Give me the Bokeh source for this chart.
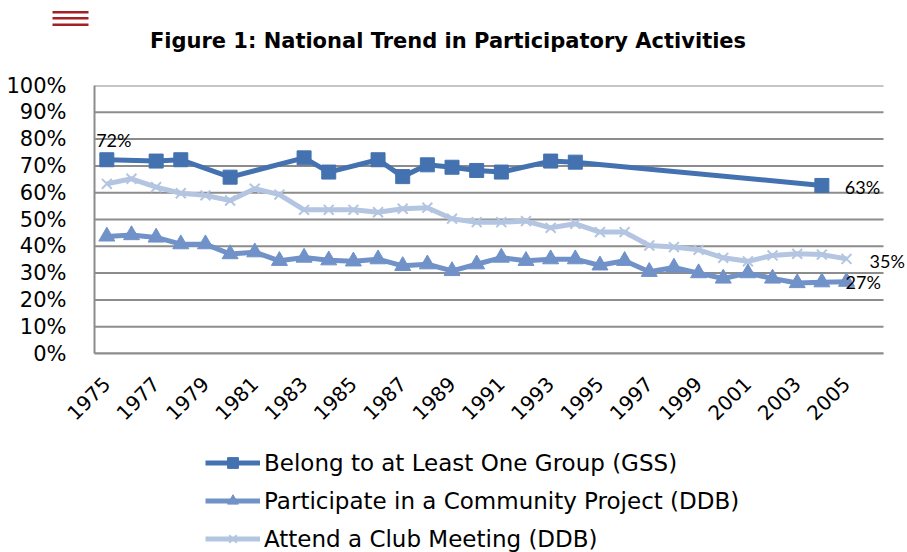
from bokeh.plotting import figure
from bokeh.layouts import column
from bokeh.models import (Range1d, FixedTicker, PrintfTickFormatter, Legend,
                          LegendItem, Label, ColumnDataSource)
from bokeh.core.properties import value
from bokeh.embed import file_html
from bokeh.resources import INLINE
import math

# ---------------- data ----------------
first_year, last_year = 1975, 2006                 # category slots on the x axis
tick_years = list(range(1975, 2006, 2))            # labelled years

gss_years = [1975, 1977, 1978, 1980, 1983, 1984, 1986, 1987,
             1988, 1989, 1990, 1991, 1993, 1994, 2004]
gss_vals = [72.3, 71.8, 72.3, 65.8, 73.0, 67.7, 72.3, 66.0,
            70.4, 69.5, 68.3, 67.7, 71.8, 71.4, 62.7]

ddb_years = list(range(1975, 2006))
project_vals = [43.7, 44.2, 43.3, 40.8, 40.8, 37.1, 37.8, 34.6, 35.8, 34.8,
                34.4, 35.2, 32.7, 33.3, 30.8, 33.3, 35.8, 34.6, 35.2, 35.2,
                32.9, 34.6, 30.5, 32.1, 30.0, 28.0, 30.0, 28.0, 26.3, 26.6, 26.8]
club_vals = [63.3, 65.2, 62.1, 59.8, 59.0, 57.1, 61.5, 59.3, 53.6, 53.6,
             53.6, 52.7, 54.0, 54.4, 50.3, 49.0, 49.0, 49.4, 46.9, 48.4,
             45.3, 45.3, 40.3, 39.7, 38.7, 35.7, 34.4, 36.6, 37.2, 36.9, 35.3]

y_ticks = [0, 10, 20, 30, 40, 50, 60, 70, 80, 90, 100]

series_names = ["Belong to at Least One Group (GSS)",
                "Participate in a Community Project (DDB)",
                "Attend a Club Meeting (DDB)"]
title_text = "Figure 1: National Trend in Participatory Activities"

c_gss = "#4472B0"
c_proj = "#7092C8"
c_club = "#B3C5E1"
grid_col = "#8C8C8C"

# ---------------- layout constants ----------------
W = 907
HEAD_H, MAIN_H, FOOT_H = 55, 385, 112
FRAME_LEFT, PLOT_RIGHT = 94, 883          # plot area; frame itself runs to the edge
x_lo, x_hi = first_year - 0.5, last_year + 0.5
px_per_year = (PLOT_RIGHT - FRAME_LEFT) / (x_hi - x_lo)
x_end = x_lo + (W - FRAME_LEFT) / px_per_year

# ---------------- header (icon + title) ----------------
head = figure(width=W, height=HEAD_H, x_range=Range1d(0, W), y_range=Range1d(HEAD_H, 0),
              x_axis_type=None, y_axis_type=None, output_backend="svg",
              toolbar_location=None, min_border=0)
head.outline_line_color = None
head.grid.visible = False
# hamburger icon (decoration)
head.quad(left=52, right=88, top=[10.5, 16.5, 23.0], bottom=[13.0, 19.0, 25.5],
          fill_color="#A52025", line_color=None)
head.add_layout(Label(x=447.5, y=40, text=title_text, text_font="DejaVu Sans",
                      text_font_style="bold", text_font_size="21px",
                      text_align="center", text_baseline="middle", text_color="black"))

# ---------------- main chart ----------------
p = figure(width=W, height=MAIN_H, x_range=Range1d(x_lo, x_end), y_range=Range1d(0, 100),
           output_backend="svg", toolbar_location=None,
           min_border_left=FRAME_LEFT, min_border_right=0, min_border_top=30,
           min_border_bottom=87)
p.outline_line_color = None
p.grid.visible = False

# horizontal gridlines limited to the plot area
p.segment(x0=x_lo, x1=x_hi, y0=y_ticks, y1=y_ticks, line_color=grid_col, line_width=2)

p.yaxis.ticker = FixedTicker(ticks=y_ticks)
p.yaxis.formatter = PrintfTickFormatter(format="%d%%")
p.yaxis.bounds = (0, 100)
p.yaxis.major_label_text_font = "DejaVu Sans"
p.yaxis.major_label_text_font_size = "21px"
p.yaxis.major_label_text_color = "black"
p.yaxis.major_label_standoff = 22
p.yaxis.major_tick_line_color = None
p.yaxis.minor_tick_line_color = None
p.yaxis.axis_line_color = grid_col
p.yaxis.axis_line_width = 2

p.xaxis.ticker = FixedTicker(ticks=tick_years)
p.xaxis.formatter = PrintfTickFormatter(format="%d")
p.xaxis.bounds = (x_lo, x_hi)
p.xaxis.major_label_orientation = math.pi / 4
p.xaxis.major_label_text_font = "DejaVu Sans"
p.xaxis.major_label_text_font_size = "20px"
p.xaxis.major_label_text_color = "black"
p.xaxis.major_label_standoff = 21
p.xaxis.major_tick_line_color = None
p.xaxis.minor_tick_line_color = None
p.xaxis.axis_line_color = grid_col
p.xaxis.axis_line_width = 2

src_club = ColumnDataSource(dict(x=ddb_years, y=club_vals))
src_proj = ColumnDataSource(dict(x=ddb_years, y=project_vals))
src_gss = ColumnDataSource(dict(x=gss_years, y=gss_vals))

styles = [
    (src_club, c_club, dict(marker="x", size=14, line_width=2)),
    (src_proj, c_proj, dict(marker="triangle", size=16)),
    (src_gss, c_gss, dict(marker="square", size=14)),
]

def draw_series(fig):
    out = []
    for src, col, mk in styles:
        ln = fig.line("x", "y", source=src, line_color=col, line_width=5, line_join="round")
        sc = fig.scatter("x", "y", source=src, fill_color=col, line_color=col, **mk)
        out.append((ln, sc))
    return out

draw_series(p)

def lab(xs, ys, xo, yo, align):
    src = ColumnDataSource(dict(x=xs, y=ys, t=[f"{round(v)}%" for v in ys]))
    p.text("x", "y", text="t", source=src, x_offset=xo, y_offset=yo,
           text_font=value("Lato"), text_font_size="18px", text_color="black",
           text_align=align, text_baseline="middle")

lab([gss_years[0]], [gss_vals[0]], 7, -20, "center")
lab([gss_years[-1]], [gss_vals[-1]], 23, 2, "left")
lab([ddb_years[-1]], [club_vals[-1]], 23, 2, "left")
lab([ddb_years[-1]], [project_vals[-1]], -1, 0, "left")

# ---------------- footer (legend) ----------------
foot = figure(width=W, height=FOOT_H, x_range=Range1d(0, W), y_range=Range1d(200, 312),
              x_axis_type=None, y_axis_type=None, output_backend="svg",
              toolbar_location=None, min_border=0)
foot.outline_line_color = None
foot.grid.visible = False
rs = draw_series(foot)   # same series, out of view: only used by the legend
legend = Legend(items=[LegendItem(label=series_names[0], renderers=list(rs[2])),
                       LegendItem(label=series_names[1], renderers=list(rs[1])),
                       LegendItem(label=series_names[2], renderers=list(rs[0]))],
                location=(205, 0), orientation="vertical",
                glyph_width=55, glyph_height=27, label_height=27, spacing=11,
                label_standoff=4, padding=0, margin=0,
                border_line_color=None, background_fill_alpha=0,
                label_text_font="DejaVu Sans", label_text_font_size="23px",
                label_text_color="black")
foot.add_layout(legend, "center")

layout = column(column(head), p, column(foot), spacing=0)
open("out.html", "w").write(file_html(layout, INLINE))
